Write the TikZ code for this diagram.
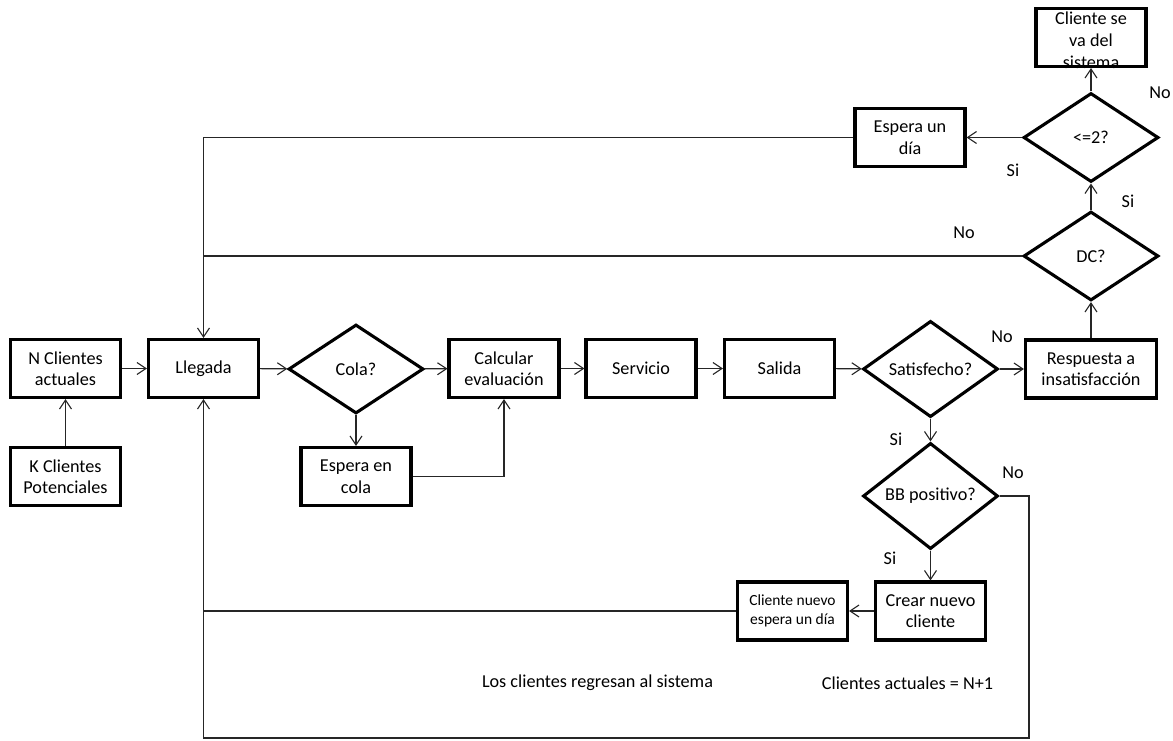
\documentclass[tikz,border=0pt]{standalone}
\usepackage{fontspec}
\setmainfont{Carlito}
\usetikzlibrary{shapes.geometric,arrows.meta}
\begin{document}
\begin{tikzpicture}[x=1pt,y=-1pt,
 mainfont/.style={font=\fontsize{18.2}{21.5}\selectfont},
 box/.style={draw, line width=3.1pt, minimum width=110pt, minimum height=58pt, inner sep=0pt, align=center, mainfont},
 dia/.style={draw, diamond, line width=3.1pt, minimum width=135pt, minimum height=89pt, inner sep=0pt, align=center, mainfont},
 lbl/.style={mainfont, inner sep=0pt},
 conn/.style={line width=1.1pt, draw=black!85},
 arr/.style={conn, -{Straight Barb[length=9pt,width=12pt]}}
]
\useasboundingbox (0,0) rectangle (1173,740);

\node[box] (nc) at (65.5,368.5) {N Clientes\\actuales};
\node[box] (kc) at (65.5,476.5) {K Clientes\\Potenciales};
\node[box] (lleg) at (203.5,368.5) {Llegada};
\node[dia] (cola) at (356,369) {Cola?};
\node[box] (ecola) at (356,476.5) {Espera en\\cola};
\node[box] (calc) at (504,368.5) {Calcular\\evaluación};
\node[box] (serv) at (641,368.5) {Servicio};
\node[box] (sal) at (779.5,368.5) {Salida};
\node[dia] (sat) at (930.5,369) {Satisfecho?};
\node[box, minimum width=131pt] (resp) at (1091,369) {Respuesta a\\insatisfacción};
\node[dia] (bb) at (930.5,496) {BB positivo?};
\node[box] (crear) at (930.5,611) {Crear nuevo\\cliente};
\node[box, font=\fontsize{15.5}{18.5}\selectfont] (nuevo) at (792.5,611) {Cliente nuevo\\espera un día};
\node[dia] (dc) at (1091,256) {DC?};
\node[dia] (le2) at (1091,137.5) {<=2?};
\node[box] (espd) at (910,137.5) {Espera un\\día};
\node[box] (sale) at (1091,37.5) {};
\node[align=center, inner sep=0pt, font=\fontsize{18.2}{22}\selectfont] (saletxt) at (1091,40) {Cliente se\\va del\\sistema};

\node[lbl] (t1) at (597.5,683) {Los clientes regresan al sistema};
\node[lbl] (t2) at (907.5,683) {Clientes actuales = N+1};

\node[lbl] (l1) at (1160,93) {No};
\node[lbl] (l2) at (1013,170) {Si};
\node[lbl] (l3) at (1128,201) {Si};
\node[lbl] (l4) at (964,233) {No};
\node[lbl] (l5) at (1002,337) {No};
\node[lbl] (l6) at (896,439) {Si};
\node[lbl] (l7) at (1013,473) {No};
\node[lbl] (l8) at (890,558) {Si};

\coordinate (br) at (1029,738);

\draw[arr] (kc) -- (nc);
\draw[arr] (nc) -- (lleg);
\draw[arr] (lleg) -- (cola);
\draw[arr] (cola.south) -- (ecola.north);
\draw[arr] (cola) -- (calc);
\draw[arr] (ecola.east) -| (calc.south);
\draw[arr] (calc) -- (serv);
\draw[arr] (serv) -- (sal);
\draw[arr] (sal) -- (sat);
\draw[arr] (sat) -- (resp);
\draw[arr] (sat.south) -- (bb.north);
\draw[arr] (resp.north) -- (dc.south);
\draw[arr] (dc.north) -- (le2.south);
\draw[arr] (le2.north) -- (sale.south);
\draw[arr] (le2.west) -- (espd.east);
\draw[arr] (espd.west) -| (lleg.north);
\draw[conn] (dc.west) -- (dc.west -| lleg.north);
\draw[arr] (bb.south) -- (crear.north);
\draw[arr] (crear.west) -- (nuevo.east);
\draw[conn] (nuevo.west) -- (nuevo.west -| lleg.south);
\draw[arr] (bb.east) -| (br) -| (lleg.south);
\end{tikzpicture}
\end{document}
